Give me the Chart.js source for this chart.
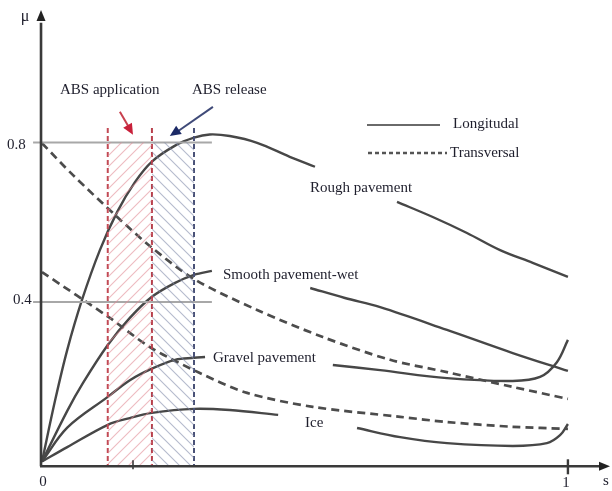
<!DOCTYPE html>
<html><head><meta charset="utf-8">
<script src="https://cdn.jsdelivr.net/npm/chart.js@4.4.1/dist/chart.umd.min.js"></script>
<style>html,body{margin:0;padding:0;background:#fff}#wrap{width:612px;height:491px;position:relative}</style>
</head><body><div id="wrap"><canvas id="c"></canvas></div>
<script>
// ---- data (slip s, friction coefficient mu); null = gap where a label sits ----
const roughS  = [0, 0.025, 0.048, 0.076, 0.110, 0.143, 0.177, 0.209, 0.253, 0.289, 0.319, 0.357, 0.409, 0.471, 0.519, 0.60, 0.675, 0.743, 0.808, 0.871, 0.933, 1.0];
const roughMu = [0, 0.154, 0.280, 0.405, 0.530, 0.626, 0.701, 0.752, 0.792, 0.812, 0.820, 0.816, 0.799, 0.764, 0.739, null, 0.651, 0.613, 0.573, 0.530, 0.498, 0.463];

const smoothS  = [0, 0.048, 0.078, 0.125, 0.167, 0.209, 0.253, 0.289, 0.323, 0.42, 0.510, 0.576, 0.643, 0.770, 0.895, 1.0];
const smoothMu = [0, 0.127, 0.197, 0.292, 0.360, 0.413, 0.448, 0.468, 0.478, null, 0.435, 0.410, 0.387, 0.330, 0.272, 0.227];

const gravelS  = [0, 0.048, 0.125, 0.167, 0.209, 0.253, 0.289, 0.310, 0.43, 0.553, 0.643, 0.770, 0.895, 0.947, 0.979, 1.0];
const gravelMu = [0, 0.085, 0.162, 0.204, 0.233, 0.255, 0.260, 0.262, null, 0.242, 0.229, 0.209, 0.202, 0.212, 0.249, 0.305];

const iceS  = [0, 0.048, 0.125, 0.167, 0.209, 0.289, 0.357, 0.449, 0.52, 0.599, 0.681, 0.770, 0.895, 0.960, 0.985, 1.0];
const iceMu = [0, 0.036, 0.092, 0.109, 0.122, 0.132, 0.129, 0.117, null, 0.084, 0.061, 0.046, 0.039, 0.046, 0.066, 0.094];

const transUpS  = [0, 0.059, 0.143, 0.209, 0.291, 0.409, 0.534, 0.662, 0.770, 0.895, 1.0];
const transUpMu = [0.798, 0.718, 0.613, 0.536, 0.456, 0.380, 0.312, 0.255, 0.224, 0.187, 0.157];

const transLoS  = [0, 0.129, 0.205, 0.300, 0.390, 0.515, 0.681, 0.770, 0.895, 1.0];
const transLoMu = [0.475, 0.360, 0.287, 0.222, 0.172, 0.137, 0.112, 0.099, 0.087, 0.082];

const absApplication = [0.125, 0.209];   // slip band
const absRelease     = [0.209, 0.289];   // slip band
const refLevels      = [0.4, 0.8];       // grey reference lines
const yTickLabels    = ['0.4', '0.8'];
const xTickLabels    = ['0', '1'];
const legendLabels   = ['Longitudal', 'Transversal'];
const curveLabels    = ['Rough pavement', 'Smooth pavement-wet', 'Gravel pavement', 'Ice'];

const Y_MIN = -0.012, Y_MAX = 1.132, X_MIN = -0.02, X_MAX = 1.08;

function pts(xs, ys){ return xs.map((x,i)=>({x:x, y:ys[i]})); }

const canvas = document.getElementById('c');
const ctx0 = canvas.getContext('2d');
function hatch(color, dir){
  const c = document.createElement('canvas'); c.width = 11; c.height = 11;
  const g = c.getContext('2d'); g.strokeStyle = color; g.lineWidth = 1.1; g.beginPath();
  if (dir > 0) { g.moveTo(0,11); g.lineTo(11,0); g.moveTo(-5.5,5.5); g.lineTo(5.5,-5.5); g.moveTo(5.5,16.5); g.lineTo(16.5,5.5); }
  else { g.moveTo(0,0); g.lineTo(11,11); g.moveTo(-5.5,5.5); g.lineTo(5.5,16.5); g.moveTo(5.5,-5.5); g.lineTo(16.5,5.5); }
  g.stroke();
  return ctx0.createPattern(c, 'repeat');
}

const curveStyle = {showLine:true, pointRadius:0, borderColor:'#474747', borderWidth:2.4, tension:0.35, spanGaps:false, fill:false};
const dashStyle  = {showLine:true, pointRadius:0, borderColor:'#4c4c4c', borderWidth:2.7, tension:0.3, borderDash:[8,5], fill:false};

function band(xs, pattern){
  return {data: xs.map(x=>({x:x, y:refLevels[1]})), showLine:true, pointRadius:0, borderWidth:0,
          borderColor:'rgba(0,0,0,0)', backgroundColor:pattern, fill:{value:Y_MIN}, tension:0};
}
function vline(xv, color){
  return {data:[{x:xv, y:0.836},{x:xv, y:Y_MIN}], showLine:true, pointRadius:0, borderColor:color, borderWidth:2, borderDash:[5,3], fill:false};
}
function hline(yv){
  return {data:[{x:X_MIN+0.003, y:yv},{x:0.323, y:yv}], showLine:true, pointRadius:0, borderColor:'#a8a8a8', borderWidth:2, fill:false};
}

const datasets = [
  band(absApplication, hatch('rgba(225,140,150,0.6)', 1)),
  band(absRelease, hatch('rgba(130,140,170,0.6)', -1)),
  hline(refLevels[0]), hline(refLevels[1]),
  vline(absApplication[0], '#c24a55'), vline(absApplication[1], '#b8404c'), vline(absRelease[1], '#4a5278'),
  Object.assign({data:pts(transUpS, transUpMu)}, dashStyle),
  Object.assign({data:pts(transLoS, transLoMu)}, dashStyle),
  Object.assign({data:pts(roughS, roughMu)}, curveStyle),
  Object.assign({data:pts(smoothS, smoothMu)}, curveStyle),
  Object.assign({data:pts(gravelS, gravelMu)}, curveStyle),
  Object.assign({data:pts(iceS, iceMu)}, curveStyle)
];

function tri(ctx, x1, y1, x2, y2, len, half, color){
  const a = Math.atan2(y2-y1, x2-x1);
  ctx.fillStyle = color; ctx.beginPath();
  ctx.moveTo(x2, y2);
  ctx.lineTo(x2 - len*Math.cos(a) + half*Math.sin(a), y2 - len*Math.sin(a) - half*Math.cos(a));
  ctx.lineTo(x2 - len*Math.cos(a) - half*Math.sin(a), y2 - len*Math.sin(a) + half*Math.cos(a));
  ctx.closePath(); ctx.fill();
}

const decor = {
  id:'decor',
  afterDatasetsDraw(chart){
    const ctx = chart.ctx, xs = chart.scales.x, ys = chart.scales.y;
    const X = v=>xs.getPixelForValue(v), Y = v=>ys.getPixelForValue(v);
    ctx.save();
    // axes
    ctx.strokeStyle = '#3a3a3a'; ctx.lineWidth = 2.6; ctx.setLineDash([]);
    ctx.beginPath(); ctx.moveTo(X(0)-1, Y(Y_MIN)); ctx.lineTo(X(0)-1, Y(1.10)); ctx.stroke();
    tri(ctx, X(0)-1, Y(1.0), X(0)-1, Y(Y_MAX), 11, 4.5, '#222');
    ctx.beginPath(); ctx.moveTo(X(0)-2, Y(Y_MIN)); ctx.lineTo(X(1.065), Y(Y_MIN)); ctx.stroke();
    tri(ctx, X(1.0), Y(Y_MIN), X(X_MAX), Y(Y_MIN), 11, 4.5, '#222');
    // ticks
    ctx.lineWidth = 2.4;
    ctx.beginPath(); ctx.moveTo(X(1), Y(Y_MIN)-7); ctx.lineTo(X(1), Y(Y_MIN)+8); ctx.stroke();
    ctx.lineWidth = 1.6;
    ctx.beginPath(); ctx.moveTo(X(0.173), Y(Y_MIN)-6); ctx.lineTo(X(0.173), Y(Y_MIN)+3); ctx.stroke();
    // arrows
    ctx.lineWidth = 2;
    ctx.strokeStyle = '#c8404e';
    ctx.beginPath(); ctx.moveTo(X(0.148), Y(0.877)); ctx.lineTo(X(0.168), Y(0.832)); ctx.stroke();
    tri(ctx, X(0.148), Y(0.877), X(0.173), Y(0.819), 11, 5, '#c8203a');
    ctx.strokeStyle = '#3f4a78';
    ctx.beginPath(); ctx.moveTo(X(0.325), Y(0.889)); ctx.lineTo(X(0.255), Y(0.825)); ctx.stroke();
    tri(ctx, X(0.325), Y(0.889), X(0.243), Y(0.816), 11, 5, '#1c2a66');
    // legend
    ctx.strokeStyle = '#6a6a6a'; ctx.lineWidth = 2;
    ctx.beginPath(); ctx.moveTo(367, 125); ctx.lineTo(440, 125); ctx.stroke();
    ctx.setLineDash([4,3]); ctx.lineWidth = 2.6; ctx.strokeStyle = '#555';
    ctx.beginPath(); ctx.moveTo(368, 153); ctx.lineTo(447, 153); ctx.stroke();
    ctx.setLineDash([]);
    // texts
    ctx.fillStyle = '#1e1e2c'; ctx.textBaseline = 'middle'; ctx.textAlign = 'left';
    ctx.font = '15px "Liberation Serif", "DejaVu Serif", serif';
    ctx.fillText('ABS application', 60, 90);
    ctx.fillText('ABS release', 192, 90);
    ctx.fillText(legendLabels[0], 453, 124);
    ctx.fillText(legendLabels[1], 450, 153);
    ctx.fillText(curveLabels[0], 310, 188);
    ctx.fillText(curveLabels[1], 223, 275);
    ctx.fillText(curveLabels[2], 213, 358);
    ctx.fillText(curveLabels[3], 305, 423);
    ctx.fillText(yTickLabels[1], 7, 145);
    ctx.fillText(yTickLabels[0], 13, 300);
    ctx.textAlign = 'center';
    ctx.font = '16px "Liberation Serif", "DejaVu Serif", serif';
    ctx.fillText('μ', 25, 17);
    ctx.font = '15px "Liberation Serif", "DejaVu Serif", serif';
    ctx.fillText(xTickLabels[0], X(0)+1, 482);
    ctx.fillText(xTickLabels[1], X(1)-2, 483);
    ctx.fillText('s', 606, 481);
    ctx.restore();
  }
};

new Chart(canvas, {
  type:'scatter',
  data:{datasets:datasets},
  options:{
    responsive:true, maintainAspectRatio:false, animation:false,
    layout:{padding:{left:31.5, right:2, top:10, bottom:24.7}},
    plugins:{legend:{display:false}, tooltip:{enabled:false}},
    scales:{
      x:{type:'linear', min:X_MIN, max:X_MAX, display:false},
      y:{type:'linear', min:Y_MIN, max:Y_MAX, display:false}
    }
  },
  plugins:[decor]
});
</script></body></html>
